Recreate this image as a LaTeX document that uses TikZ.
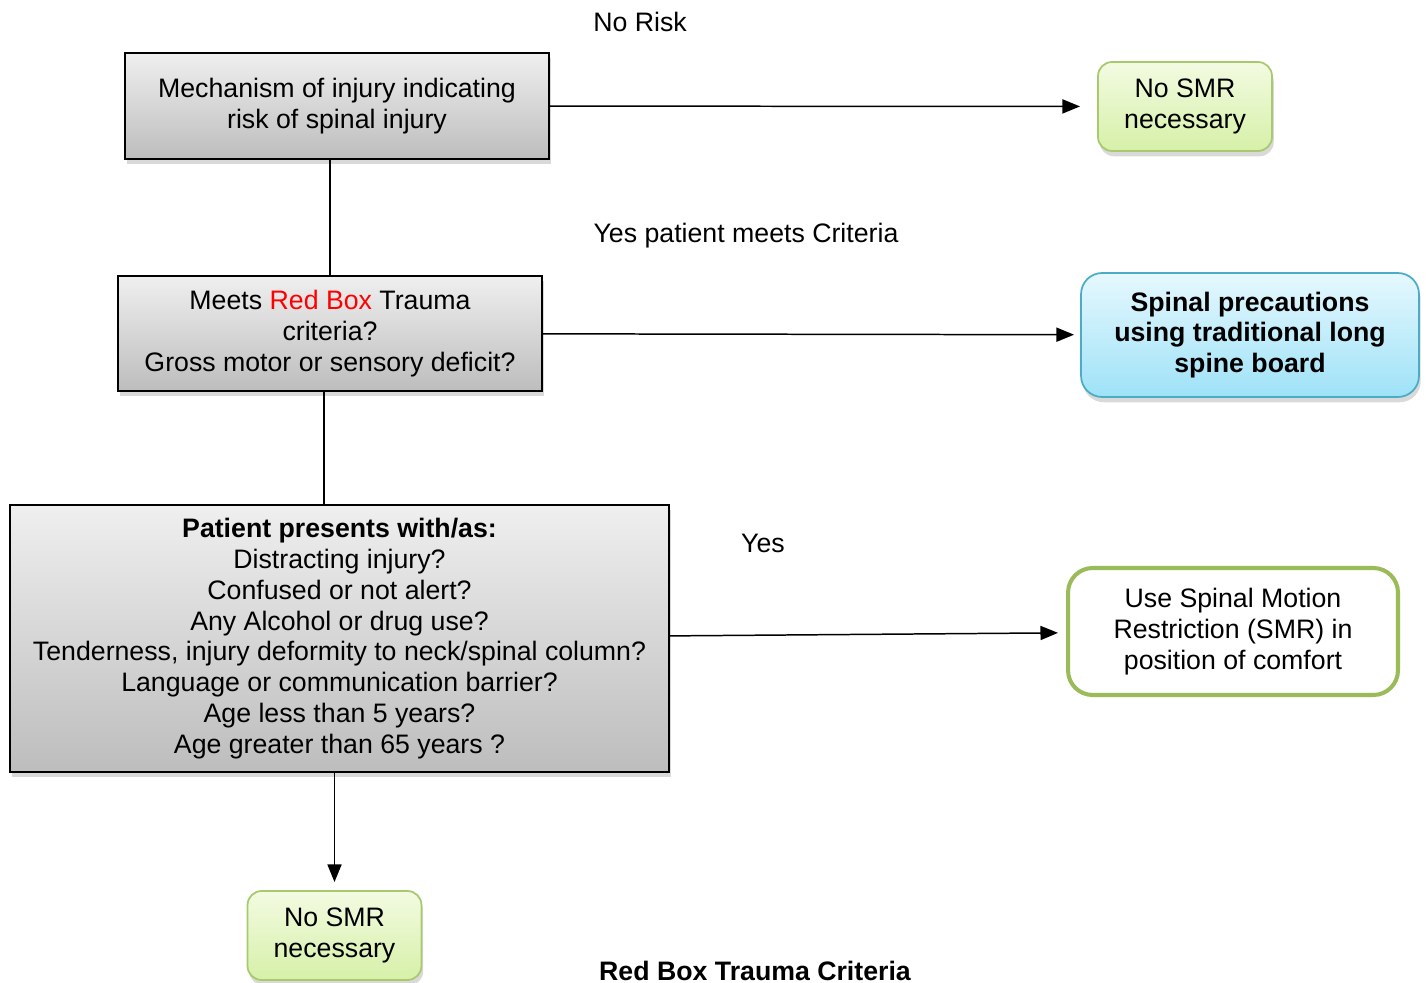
\documentclass[tikz,border=0pt]{standalone}
\usepackage{fontspec}
\setmainfont{Liberation Sans}
\usepackage{tikz}
\usetikzlibrary{shapes,shadows,arrows.meta}

\definecolor{boxtop}{HTML}{EFEFEF}
\definecolor{boxbot}{HTML}{BDBDBD}
\definecolor{greentop}{HTML}{F3FBE2}
\definecolor{greenbot}{HTML}{D6F0A8}
\definecolor{greenline}{HTML}{A8C96E}
\definecolor{bluetop}{HTML}{E6F8FE}
\definecolor{bluebot}{HTML}{9EE2F7}
\definecolor{blueline}{HTML}{4BACC6}
\definecolor{smrline}{HTML}{9BBB59}

\begin{document}
\begin{tikzpicture}[x=0.02cm,y=-0.02cm,
  font=\fontsize{15.2}{17.5}\selectfont,
  greybox/.style={draw=black,line width=1.1pt,top color=boxtop,bottom color=boxbot,
    align=center,inner sep=0,outer sep=0,
    drop shadow={shadow xshift=1pt,shadow yshift=-3pt,opacity=0.3}},
  nosmrbox/.style={draw=greenline,line width=1pt,rounded corners=8pt,
    top color=greentop,bottom color=greenbot,align=center,inner sep=0,outer sep=0,
    minimum width=3.48cm,minimum height=1.78cm,
    drop shadow={shadow xshift=1pt,shadow yshift=-3pt,opacity=0.3}},
  flow/.style={line width=0.85pt,-{Triangle[length=10pt,width=8pt]}},
  link/.style={line width=0.85pt}]
\useasboundingbox (0,0) rectangle (1426,983);
% left column
\node[greybox,minimum width=8.48cm,minimum height=2.12cm] (mechanism) at (337,106)
  {Mechanism of injury indicating\\risk of spinal injury};
\node[greybox,minimum width=8.48cm,minimum height=2.3cm] (redbox) at (330,333.5)
  {Meets \textcolor{red}{Red Box} Trauma\\criteria?\\Gross motor or sensory deficit?};
\node[greybox,minimum width=13.18cm,minimum height=5.34cm] (presents) at (339.5,638.5)
  {\textbf{Patient presents with/as:}\\Distracting injury?\\Confused or not alert?\\
   Any Alcohol or drug use?\\Tenderness, injury deformity to neck/spinal column?\\
   Language or communication barrier?\\Age less than 5 years?\\Age greater than 65 years ?};
\node[nosmrbox] (nosmrB) at (334.5,935.5) {No SMR\\necessary};
% right column
\node[nosmrbox] (nosmrA) at (1185,106.5) {No SMR\\necessary};
\node[draw=blueline,line width=1pt,rounded corners=12pt,top color=bluetop,bottom color=bluebot,
  align=center,inner sep=0,outer sep=0,minimum width=6.76cm,minimum height=2.48cm,
  font=\fontsize{15.2}{17.5}\selectfont\bfseries,
  drop shadow={shadow xshift=1pt,shadow yshift=-3pt,opacity=0.3}] (board) at (1250,335)
  {Spinal precautions\\using traditional long\\spine board};
\node[draw=smrline,line width=2.3pt,rounded corners=14pt,fill=white,align=center,
  inner sep=0,outer sep=0,minimum width=6.6cm,minimum height=2.54cm] (smr) at (1233,631.5)
  {Use Spinal Motion\\Restriction (SMR) in\\position of comfort};
% labels
\node (norisk) at (640,22) {No Risk};
\node (yesmeets) at (746,236) {Yes patient meets Criteria};
\node (yes) at (763,543) {Yes};
\node[font=\fontsize{15.2}{17.5}\selectfont\bfseries] (title) at (755,971) {Red Box Trauma Criteria};
% connectors
\draw[flow,shorten >=0.36cm] (mechanism) -- (nosmrA);
\draw[flow,shorten >=0.14cm] (redbox) -- (board);
\draw[flow,shorten >=0.2cm] (presents) -- (smr);
\draw[link] (redbox.north |- mechanism.south) -- (redbox.north);
\draw[link] ([xshift=-0.12cm]redbox.south) -- ([xshift=-0.12cm]redbox.south |- presents.north);
\draw[flow,shorten >=0.18cm] (nosmrB.north |- presents.south) -- (nosmrB.north);
\end{tikzpicture}
\end{document}
